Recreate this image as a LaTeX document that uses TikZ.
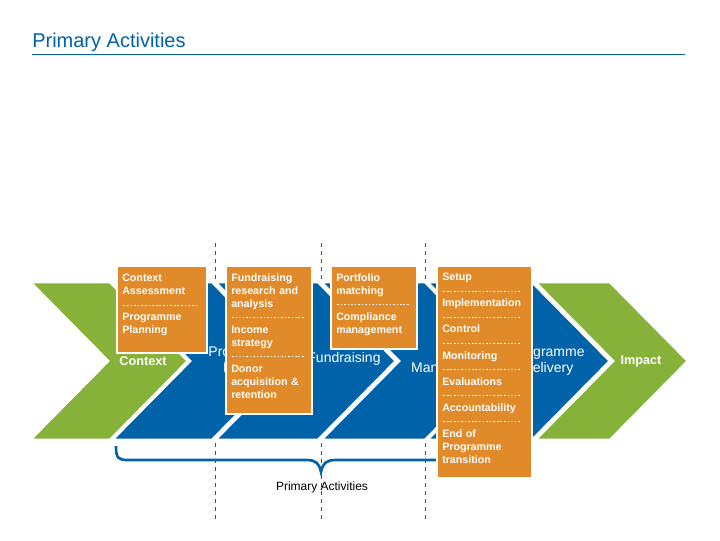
\documentclass[tikz,border=0pt]{standalone}
\usepackage{fontspec}
\setmainfont{Liberation Sans}
\usetikzlibrary{calc}
\definecolor{cblue}{HTML}{0062A8}
\definecolor{cgreen}{HTML}{86B23A}
\definecolor{corange}{HTML}{E08A2A}
\newcommand{\dsep}{\par\vspace{0pt}\noindent\leavevmode\xleaders\hbox to 2.6pt{\hss\rule[2pt]{1.3pt}{0.4pt}\hss}\hfill\null\par\vspace{0pt}}
\tikzset{
  chev/.style={draw=white,line width=2pt},
  obox/.style={draw=white,line width=2.2pt,fill=corange},
  otext/.style={anchor=north west,text=white,font=\fontsize{8}{9.8}\selectfont\bfseries,align=left,inner sep=0pt},
  ctext/.style={text=white,font=\fontsize{10.5}{11.5}\selectfont,align=center},
  vdash/.style={draw=cblue,dashed,line width=0.6pt},
}
\begin{document}
\begin{tikzpicture}[x=0.75pt,y=-0.75pt]
\useasboundingbox (0,0) rectangle (720,540);
\fill[white] (0,0) rectangle (720,540);
% title
\node[anchor=west,text=cblue,font=\fontsize{15}{17}\selectfont,inner sep=0pt] (title) at (32,42) {Primary Activities};
\draw[cblue,line width=0.6pt] (32,54) coordinate (ul1) -- (685,54) coordinate (ul2);
% dashed verticals
\draw[vdash] (215,243) coordinate (d1a) -- (215,520) coordinate (d1b);
\draw[vdash] (321,243) coordinate (d2a) -- (321,520) coordinate (d2b);
\draw[vdash] (425,243) coordinate (d3a) -- (425,520) coordinate (d3b);
% chevrons
\def\chev#1#2#3{\filldraw[chev,fill=#3] (#1,282) -- (#2,282) -- (#2+78,361) -- (#2,440) -- (#1,440) -- (#1+78,361) -- cycle;}
\chev{427}{532}{cblue}
\chev{321}{425}{cblue}
\chev{215}{318}{cblue}
\chev{112}{212}{cblue}
\chev{30}{110}{cgreen}
\chev{535}{610}{cgreen}
\node[ctext] (c2) at (245,361) {Programme\\Design};
\node[ctext] (c3) at (344,359) {Fundraising};
\node[ctext] (c4) at (452,361) {Fund\\Management};
\node[ctext] (c5) at (548,361) {Programme\\Delivery};
\node[text=white,font=\fontsize{9.5}{11}\selectfont\bfseries] (c1) at (143,361) {Context};
\node[text=white,font=\fontsize{9.5}{11}\selectfont\bfseries] (c6) at (641,361) {Impact};
% brace
\draw[cblue,line width=2pt] (116,446) coordinate (b1) .. controls (116,458) and (118,460) .. (128,460) -- (306,460) .. controls (316,460) and (319,463) .. (321,472) coordinate (bt) .. controls (323,463) and (326,460) .. (336,460) -- (437,460) coordinate (b2);
\node[font=\fontsize{9}{10}\selectfont] (pa) at (322,487) {Primary Activities};
% orange boxes
\draw[obox] (117,266) rectangle (207,353);
\node[otext,text width=57pt] (t1) at (122,274) {Context\\Assessment\dsep Programme\\Planning};
\draw[obox] (226,266) rectangle (312,414);
\node[otext,text width=55pt] (t2) at (231,273) {Fundraising\\research and\\analysis\dsep Income\\strategy\dsep Donor\\acquisition \&\\retention};
\draw[obox] (331,266) rectangle (417,349);
\node[otext,text width=55pt] (t3) at (336,273) {Portfolio\\matching\dsep Compliance\\management};
\draw[obox] (437,266) rectangle (532,478);
\node[otext,text width=59pt] (t4) at (442,273) {Setup\dsep Implementation\dsep Control\dsep Monitoring\dsep Evaluations\dsep Accountability\dsep End of\\Programme\\transition};
\end{tikzpicture}
\end{document}
